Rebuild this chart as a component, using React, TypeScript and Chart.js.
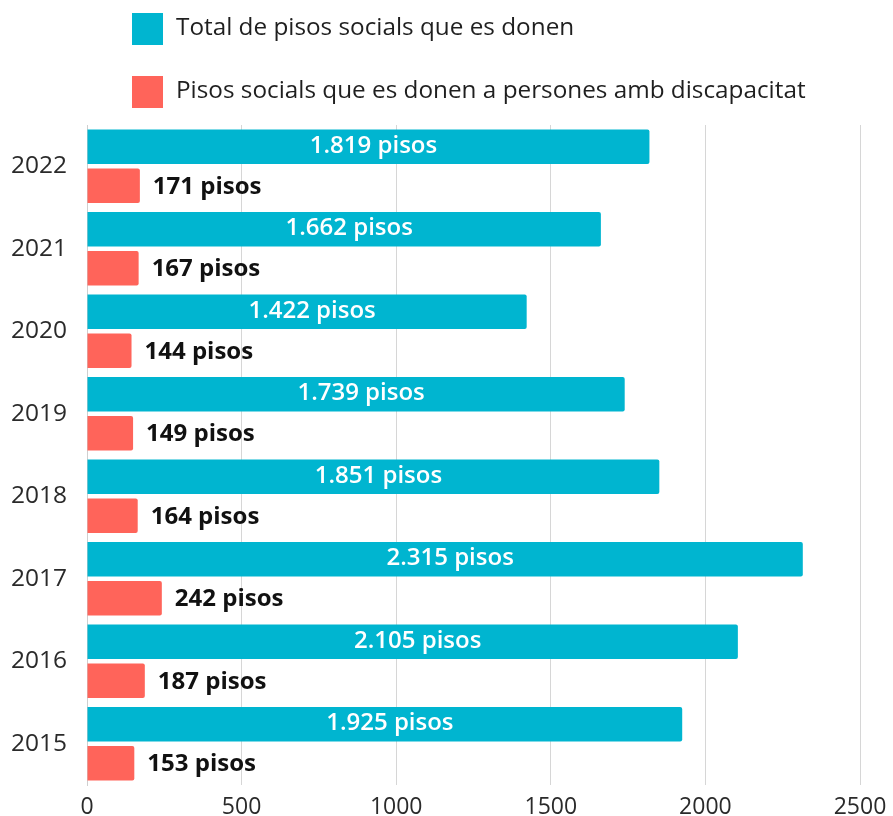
import React, { useEffect, useRef } from 'react';
import { Chart, registerables } from 'chart.js';

Chart.register(...registerables);

const years = ['2022', '2021', '2020', '2019', '2018', '2017', '2016', '2015'];
const totalFlats = [1819, 1662, 1422, 1739, 1851, 2315, 2105, 1925];
const disabilityFlats = [171, 167, 144, 149, 164, 242, 187, 153];
const totalLabels = ['1.819 pisos', '1.662 pisos', '1.422 pisos', '1.739 pisos', '1.851 pisos', '2.315 pisos', '2.105 pisos', '1.925 pisos'];
const disabilityLabels = ['171 pisos', '167 pisos', '144 pisos', '149 pisos', '164 pisos', '242 pisos', '187 pisos', '153 pisos'];
const seriesNames = ['Total de pisos socials que es donen', 'Pisos socials que es donen a persones amb discapacitat'];
const seriesColors = ['#00B5D0', '#FF645A'];
const xMin = 0;
const xMax = 2500;
const xStep = 500;

const FONT = '"Open Sans", Lato, sans-serif';

const legendPlugin = {
  id: 'customLegend',
  afterDraw(chart: any) {
    const ctx = chart.ctx;
    ctx.save();
    seriesNames.forEach((name, i) => {
      const top = 13 + i * 63;
      ctx.fillStyle = seriesColors[i];
      ctx.fillRect(132, top, 31, 32);
      ctx.fillStyle = '#1f1f1f';
      ctx.font = `400 24.3px ${FONT}`;
      ctx.textAlign = 'left';
      ctx.textBaseline = 'middle';
      ctx.fillText(name, 176, top + 15);
    });
    ctx.restore();
  },
};

const valueLabelPlugin = {
  id: 'valueLabels',
  afterDatasetsDraw(chart: any) {
    const ctx = chart.ctx;
    ctx.save();
    ctx.textBaseline = 'middle';
    chart.data.datasets.forEach((ds: any, di: number) => {
      const meta = chart.getDatasetMeta(di);
      meta.data.forEach((bar: any, j: number) => {
        const { x, y, base } = bar.getProps(['x', 'y', 'base'], true);
        if (di === 0) {
          ctx.fillStyle = '#ffffff';
          ctx.font = `600 24px ${FONT}`;
          ctx.textAlign = 'center';
          ctx.fillText(totalLabels[j], (x + base) / 2 + 5, y - 1);
        } else {
          ctx.fillStyle = '#111111';
          ctx.font = `700 24px ${FONT}`;
          ctx.textAlign = 'left';
          ctx.fillText(disabilityLabels[j], x + 13, y + 1);
        }
      });
    });
    ctx.restore();
  },
};

export default function App() {
  const canvasRef = useRef<HTMLCanvasElement | null>(null);

  useEffect(() => {
    if (!canvasRef.current) return;
    const chart = new Chart(canvasRef.current, {
      type: 'bar',
      data: {
        labels: years,
        datasets: [
          {
            label: seriesNames[0],
            data: totalFlats,
            backgroundColor: seriesColors[0],
            borderRadius: 2,
            categoryPercentage: 0.95,
            barPercentage: 0.88,
          },
          {
            label: seriesNames[1],
            data: disabilityFlats,
            backgroundColor: seriesColors[1],
            borderRadius: 2,
            categoryPercentage: 0.95,
            barPercentage: 0.88,
          },
        ],
      },
      options: {
        indexAxis: 'y',
        animation: false,
        responsive: true,
        maintainAspectRatio: false,
        layout: { padding: { top: 125, right: 33, left: 0, bottom: 0 } },
        plugins: {
          legend: { display: false },
          tooltip: { enabled: false },
        },
        scales: {
          x: {
            min: xMin,
            max: xMax,
            ticks: {
              stepSize: xStep,
              padding: 9,
              color: '#2a2a2a',
              font: { family: FONT, size: 23 },
              callback: (v: any) => String(v),
            },
            grid: { color: '#d6d6d6', lineWidth: 1, drawTicks: false },
            border: { display: false },
            afterFit: (s: any) => {
              s.height = 31;
              s.paddingLeft = 0;
              s.paddingRight = 0;
            },
          },
          y: {
            ticks: {
              padding: 20,
              color: '#2a2a2a',
              font: { family: FONT, size: 24.5 },
            },
            grid: { display: false, drawTicks: false },
            border: { display: true, color: '#cfcfcf' },
            afterFit: (s: any) => {
              s.width = 87;
              s.paddingTop = 0;
              s.paddingBottom = 0;
            },
          },
        },
      },
      plugins: [legendPlugin, valueLabelPlugin],
    });
    return () => chart.destroy();
  }, []);

  return (
    <div style={{ position: 'absolute', left: 0, top: 0, width: 893, height: 816, background: '#ffffff' }}>
      <canvas ref={canvasRef} />
    </div>
  );
}
